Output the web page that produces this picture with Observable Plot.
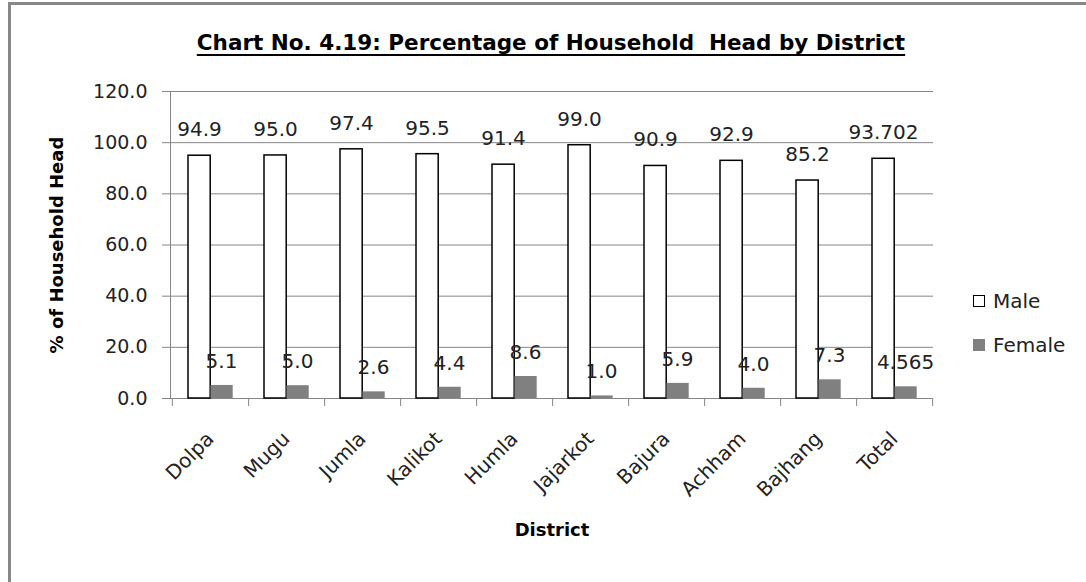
<!DOCTYPE html>
<html>
<head>
<meta charset="utf-8">
<script src="https://cdn.jsdelivr.net/npm/d3@7"></script>
<script src="https://cdn.jsdelivr.net/npm/@observablehq/plot@0.6"></script>
<style>
  html, body { margin: 0; padding: 0; background: #fff; }
  #wrap { position: relative; width: 1086px; height: 582px; overflow: hidden; background: #fff; font-family: "DejaVu Sans", sans-serif; }
  #border { position: absolute; left: 8px; top: 2px; width: 1100px; height: 600px; border-left: 3px solid #888; border-top: 3px solid #888; box-sizing: border-box; }
  #title { position: absolute; left: 0; width: 1102px; top: 32px; text-align: center; white-space: pre; font-family: "DejaVu Sans", sans-serif; font-weight: bold; font-size: 21.5px; line-height: 21px; color: #000; text-decoration: underline; text-decoration-thickness: 2px; text-underline-offset: 4px; text-decoration-skip-ink: none; }
  #chart { position: absolute; left: 0; top: 0; }
  .leg { position: absolute; font-family: "DejaVu Sans", sans-serif; font-size: 20px; line-height: 20px; color: #222; display: flex; align-items: center; }
  .sw { display: inline-block; width: 12px; height: 12px; box-sizing: border-box; margin-right: 8px; }
</style>
</head>
<body>
<div id="wrap">
  <div id="border"></div>
  <div id="title">Chart No. 4.19: Percentage of Household  Head by District</div>
  <div id="chart"></div>
  <div class="leg" style="left:973px; top:291px;"><span class="sw" style="border:1.5px solid #000; background:#fff;"></span>Male</div>
  <div class="leg" style="left:973px; top:335px;"><span class="sw" style="background:#808080;"></span>Female</div>
</div>
<script>
const districts = ["Dolpa", "Mugu", "Jumla", "Kalikot", "Humla", "Jajarkot", "Bajura", "Achham", "Bajhang", "Total"];
const male = [94.9, 95.0, 97.4, 95.5, 91.4, 99.0, 90.9, 92.9, 85.2, 93.702];
const female = [5.1, 5.0, 2.6, 4.4, 8.6, 1.0, 5.9, 4.0, 7.3, 4.565];
const yTicks = [0, 20, 40, 60, 80, 100, 120];

const data = districts.map((d, i) => ({district: d, male: male[i], female: female[i]}));
const fmt = v => { const dec = (String(v).split(".")[1] || "").length; return v.toFixed(Math.max(1, dec)); };

const W = 1086, H = 582, mL = 170, mR = 153, mT = 91, mB = 184;
const step = (W - mL - mR) / districts.length;
const gridC = "#868686";

const chart = Plot.plot({
  width: W, height: H,
  marginLeft: mL, marginRight: mR, marginTop: mT, marginBottom: mB,
  style: {fontFamily: "DejaVu Sans, sans-serif", color: "#222", background: "transparent", overflow: "visible"},
  x: {domain: districts, padding: 0},
  y: {domain: [0, 120]},
  marks: [
    Plot.gridY(yTicks, {stroke: gridC, strokeOpacity: 1}),
    Plot.axisY(yTicks, {tickSize: 8, tickPadding: 15, tickFormat: d => d.toFixed(1), stroke: gridC, fontSize: 19, label: null}),
    Plot.frame({anchor: "left", stroke: gridC}),
    Plot.axisX(districts, {tickSize: 8, dx: step / 2, tickFormat: () => "", stroke: gridC, label: null}),
    Plot.axisX([districts[0]], {tickSize: 8, dx: -step / 2, tickFormat: () => "", stroke: gridC, label: null}),
    Plot.axisX(districts, {tickSize: 0, tickPadding: 37, tickRotate: -45, fontSize: 20, label: null}),
    Plot.ruleY([0], {stroke: gridC}),
    Plot.barY(data, {x: "district", y: "male", fill: "white", stroke: "black", strokeWidth: 1.5, insetLeft: 16, insetRight: step - 38.5}),
    Plot.barY(data, {x: "district", y: "female", fill: "#808080", insetLeft: 38.5, insetRight: step - 61}),
    Plot.text(data, {x: "district", y: "male", text: d => fmt(d.male), dx: -11, dy: -26, fontSize: 20, fill: "#222"}),
    Plot.text(data, {x: "district", y: "female", text: d => fmt(d.female), dx: 11, dy: -24, fontSize: 20, fill: "#222"}),
    Plot.text(["District"], {text: d => d, frameAnchor: "bottom", dy: 137, fontWeight: "bold", fontSize: 18, fill: "#000"}),
    Plot.text(["% of Household Head"], {text: d => d, frameAnchor: "left", textAnchor: "middle", rotate: -90, dx: -113, fontWeight: "bold", fontSize: 18, fill: "#000"})
  ]
});
document.getElementById("chart").appendChild(chart);
</script>
</body>
</html>
